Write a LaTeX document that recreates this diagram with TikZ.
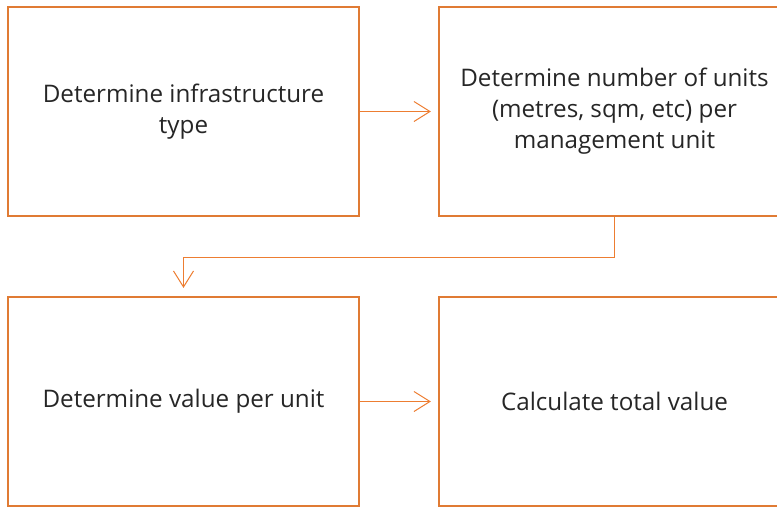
\documentclass[tikz,border=0pt]{standalone}
\usepackage{fontspec}
\setmainfont{Open Sans}
\usetikzlibrary{arrows.meta}
\definecolor{boxorange}{HTML}{E07B34}
\definecolor{linkorange}{HTML}{ED7D31}
\definecolor{textgrey}{HTML}{262626}
\tikzset{
  stepbox/.style={draw=boxorange, line width=2.2pt, minimum width=351pt, minimum height=209pt,
    inner sep=0pt, align=center, text=textgrey, font=\fontsize{24.2}{31}\selectfont},
  link/.style={draw=linkorange, line width=1pt, -{Straight Barb[length=16pt, width=20pt, line width=1pt]}}
}
\begin{document}
\begin{tikzpicture}[x=1pt, y=-1pt]
			%%%%% START %%%%%
			\useasboundingbox (0, 0) rectangle (777, 507);
			
			\node[stepbox] (infra) at (183.5, 111.5) {Determine infrastructure\\type};
			\node[stepbox] (units) at (614.5, 111.5) {Determine number of units\\(metres, sqm, etc) per\\management unit};
			\node[stepbox] (value) at (183.5, 401.5) {Determine value per unit};
			\node[stepbox] (total) at (614.5, 401.5) {Calculate total value};
			
			\draw[link] (infra.east) -- ([xshift=-7pt]units.west);
			\draw[link] (units.south) -- ++(0, 40) -| ([yshift=8pt]value.north);
			\draw[link] (value.east) -- ([xshift=-7pt]total.west);
			%%%%% END %%%%%
\end{tikzpicture}
\end{document}
